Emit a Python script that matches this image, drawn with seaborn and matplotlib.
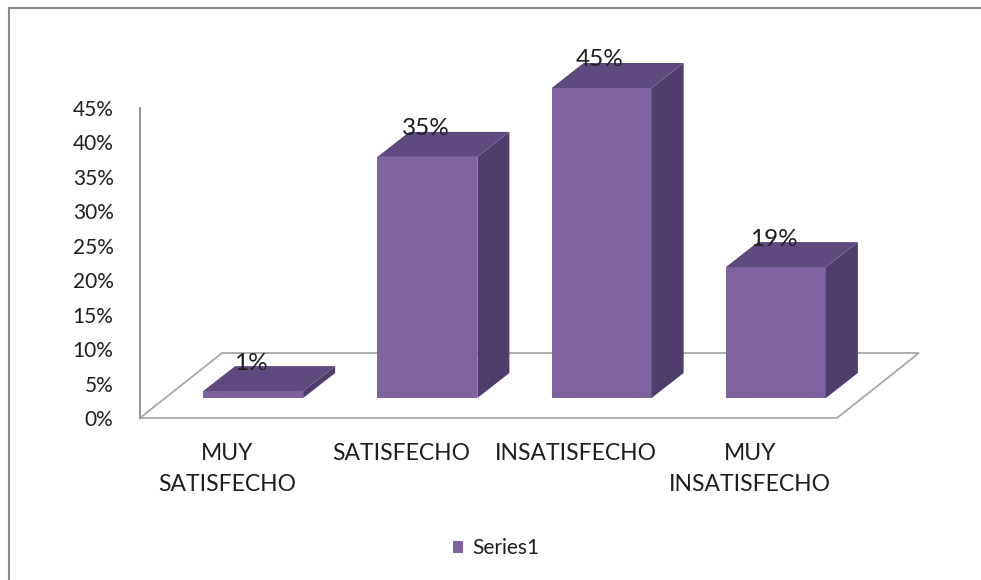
import numpy as np
import pandas as pd
import seaborn as sns
import matplotlib.pyplot as plt
from matplotlib.patches import Polygon
from matplotlib.transforms import IdentityTransform, ScaledTranslation
from matplotlib.ticker import PercentFormatter, FixedLocator
from matplotlib.lines import Line2D

# ---- data ----
categories = ["MUY\nSATISFECHO", "SATISFECHO", "INSATISFECHO", "MUY\nINSATISFECHO"]
values = [1, 35, 45, 19]
series_name = "Series1"
y_ticks = [0, 5, 10, 15, 20, 25, 30, 35, 40, 45]

# ---- style ----
FRONT = "#7F62A0"
TOP = "#5E4A7E"
SIDE = "#4F3E6B"
FLOOR_EDGE = "#A8A8A8"
TEXT = "#1E1E1E"
FS = 15

sns.set_theme(style="white")
plt.rcParams["font.family"] = ["Lato", "DejaVu Sans"]

W, H = 981, 580
fig = plt.figure(figsize=(W / 100, H / 100), dpi=100)
ax = fig.add_axes([140 / W, 1 - 418 / H, 697 / W, 310 / H])

df = pd.DataFrame({"cat": categories, "val": values, "series": series_name})
sns.barplot(data=df, x="cat", y="val", hue="series", palette=[FRONT],
            width=0.574, dodge=False, saturation=1, linewidth=0, ax=ax)
bars = list(ax.patches)
ax.set_xlim(-0.5, 3.5)
ax.set_ylim(0, 45)

# depth offsets in pixels (display coordinates, y up)
FX, FY = 26, 20      # bar front plane offset from the axis plane
DX, DY = 32, 25      # bar depth
FLX, FLY = 82, 65    # floor depth

# floor
fl = ax.transAxes.transform((0, 0))
fr = ax.transAxes.transform((1, 0))
floor = Polygon([fl, fr, fr + (FLX, FLY), fl + (FLX, FLY)], closed=True,
                transform=IdentityTransform(), facecolor="white",
                edgecolor=FLOOR_EDGE, lw=1.3, zorder=0.5, clip_on=False)
ax.add_patch(floor)

front_off = ScaledTranslation(FX / 100, FY / 100, fig.dpi_scale_trans)
for p, v in zip(bars, values):
    p.set_transform(ax.transData + front_off)
    p.set_clip_on(False)
    p.set_zorder(3)
    x0, y0, w, h = p.get_x(), p.get_y(), p.get_width(), p.get_height()
    (xl, yb), (xr, yt) = ax.transData.transform([(x0, y0), (x0 + w, y0 + h)])
    xl += FX; xr += FX; yb += FY; yt += FY
    top = Polygon([(xl, yt), (xr, yt), (xr + DX, yt + DY), (xl + DX, yt + DY)],
                  closed=True, transform=IdentityTransform(), facecolor=TOP,
                  edgecolor="none", zorder=3, clip_on=False)
    side = Polygon([(xr, yb), (xr + DX, yb + DY), (xr + DX, yt + DY), (xr, yt)],
                   closed=True, transform=IdentityTransform(), facecolor=SIDE,
                   edgecolor="none", zorder=3, clip_on=False)
    ax.add_patch(side)
    ax.add_patch(top)
    # data label
    lab_off = ScaledTranslation((FX - 2) / 100, (FY + DY + 3) / 100, fig.dpi_scale_trans)
    ax.text(x0 + w / 2, y0 + h, f"{v}%", transform=ax.transData + lab_off,
            ha="center", va="center", fontsize=17.5, color=TEXT, zorder=5, clip_on=False)

# axes styling
for s in ["top", "right", "bottom"]:
    ax.spines[s].set_visible(False)
ax.spines["left"].set_color("#8C8C8C")
ax.spines["left"].set_linewidth(1.3)
ax.yaxis.set_major_locator(FixedLocator(y_ticks))
ax.yaxis.set_major_formatter(PercentFormatter(xmax=100, decimals=0))
ax.tick_params(axis="y", length=0, pad=19, labelsize=FS, labelcolor=TEXT)
ax.tick_params(axis="x", length=0, pad=18, labelsize=16.5, labelcolor=TEXT)
for t in ax.get_xticklabels():
    t.set_linespacing(1.6)
ax.set_xlabel("")
ax.set_ylabel("")
ax.set_facecolor("none")
ax.grid(False)

# legend
handles, labels = ax.get_legend_handles_labels()
if ax.get_legend() is not None:
    ax.get_legend().remove()
fig.legend(handles, labels, loc="center", bbox_to_anchor=(496 / W, 1 - 548 / H),
           bbox_transform=fig.transFigure, frameon=False, fontsize=FS,
           handlelength=0.5, handleheight=0.5, handletextpad=0.4, labelcolor=TEXT)

# outer chart border
fig.add_artist(Line2D([9 / W, 9 / W], [0, 1 - 8 / H], transform=fig.transFigure,
                      color="#8A8A8A", lw=1.5))
fig.add_artist(Line2D([9 / W, 1], [1 - 8 / H, 1 - 8 / H], transform=fig.transFigure,
                      color="#8A8A8A", lw=1.5))

fig.savefig("out.png", dpi=100, facecolor="white")
